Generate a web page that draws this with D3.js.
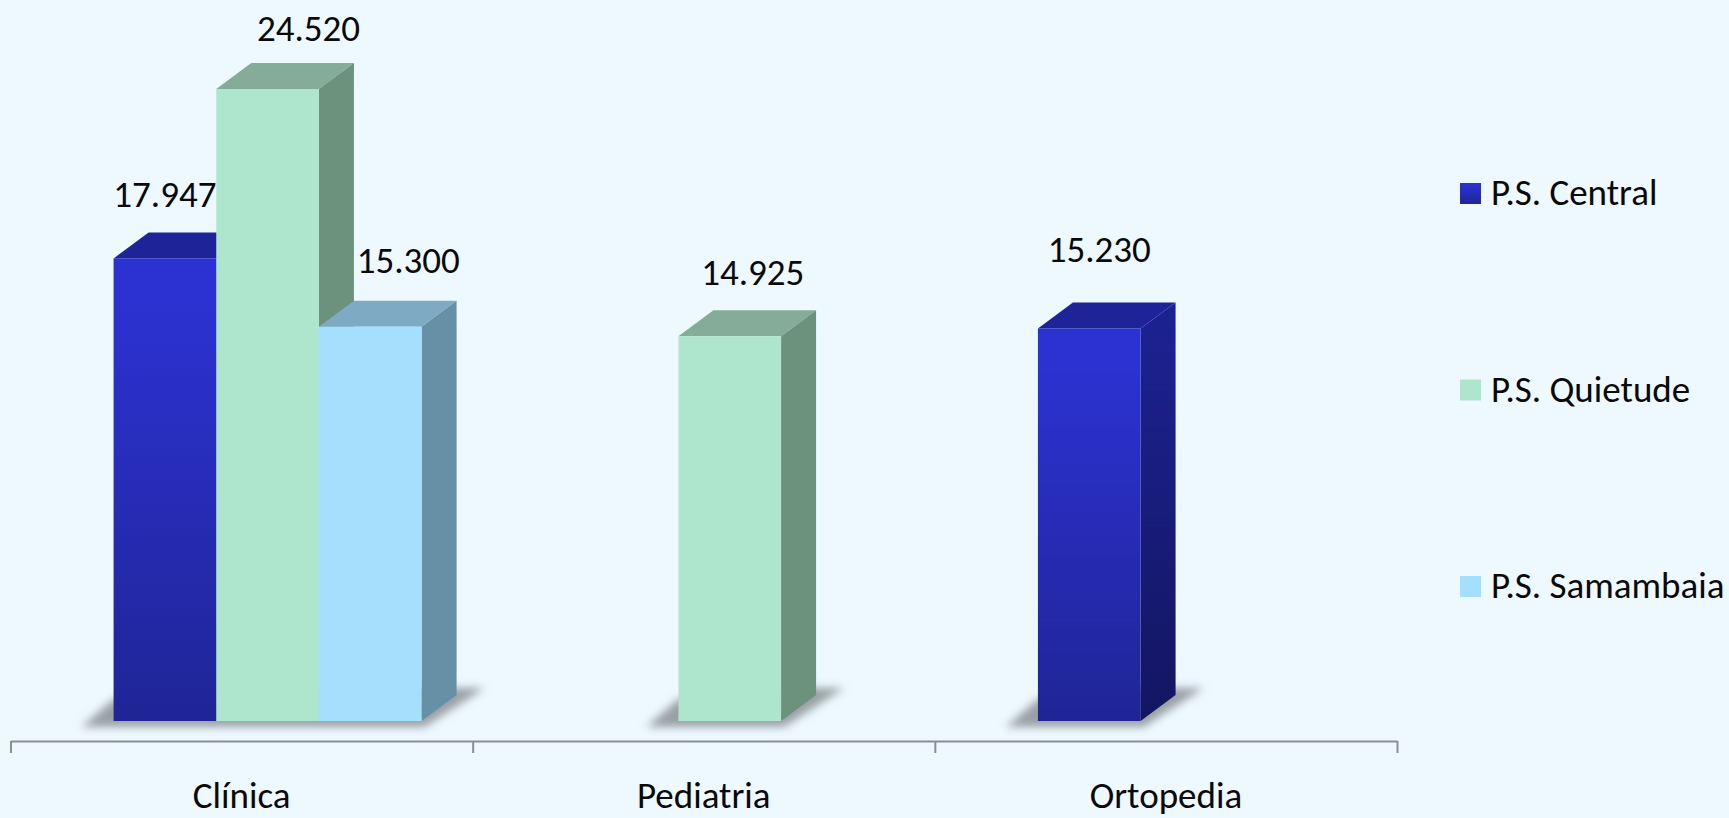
<!DOCTYPE html>
<html>
<head>
<meta charset="utf-8">
<script src="https://cdn.jsdelivr.net/npm/d3@7"></script>
<style>
  html, body { margin: 0; padding: 0; background: #edf8ff; overflow: hidden; }
  text { font-family: Carlito, Lato, "Open Sans", sans-serif; fill: #0a0a0a; }
</style>
</head>
<body>
<svg id="chart" width="1729" height="818"></svg>
<script>
const categories = ["Clínica", "Pediatria", "Ortopedia"];
const seriesNames = ["P.S. Central", "P.S. Quietude", "P.S. Samambaia"];
const central = [17947, null, 15230];
const quietude = [24520, 14925, null];
const samambaia = [15300, null, null];

// hand placed labels in the original, so nudge them off the bar top [dx, dy]
const labelNudge = {
  "Clínica|P.S. Central": [0, -51],
  "Clínica|P.S. Quietude": [41, -48],
  "Clínica|P.S. Samambaia": [38, -54],
  "Pediatria|P.S. Quietude": [23, -51],
  "Ortopedia|P.S. Central": [10, -66]
};

const faces = {
  "P.S. Central": { top: "#1e2498", front: ["#2c32d2", "#1f2596"], side: ["#1c2190", "#131660"] },
  "P.S. Quietude": { top: "#85ac98", front: ["#ade6cd", "#ade6cd"], side: ["#6c917d", "#6c917d"] },
  "P.S. Samambaia": { top: "#7faac3", front: ["#a4e0fe", "#a4e0fe"], side: ["#6690a6", "#6690a6"] }
};

const valuesBySeries = [central, quietude, samambaia];
const rows = [];
categories.forEach((cat, i) => {
  seriesNames.forEach((name, j) => {
    if (valuesBySeries[j][i] !== null) rows.push({ cat, name, value: valuesBySeries[j][i] });
  });
});

const svg = d3.select("#chart");
const depthX = 35, depthY = 26;
const baseY = 721;
const fontSize = 37;

const x = d3.scaleBand().domain(categories).range([10.5, 1397]);
const barGroup = d3.scaleBand().domain(seriesNames).range([-128, 180]);
const y = d3.scaleLinear().domain([0, 24520]).range([baseY, 89]);

const fmt = d3.formatLocale({ decimal: ",", thousands: ".", grouping: [3], currency: ["", ""] }).format(",");

const defs = svg.append("defs");
defs.append("filter").attr("id", "floor-blur")
  .attr("x", "-20%").attr("y", "-50%").attr("width", "140%").attr("height", "200%")
  .append("feGaussianBlur").attr("stdDeviation", 4);

function addGradient(id, stops) {
  const grad = defs.append("linearGradient").attr("id", id)
    .attr("x1", 0).attr("y1", 0).attr("x2", 0).attr("y2", 1);
  grad.append("stop").attr("offset", "8%").attr("stop-color", stops[0]);
  grad.append("stop").attr("offset", "100%").attr("stop-color", stops[1]);
}
seriesNames.forEach((name, j) => {
  addGradient("front-" + j, faces[name].front);
  addGradient("side-" + j, faces[name].side);
});

const barLeft = d => x(d.cat) + x.bandwidth() / 2 + barGroup(d.name);

// floor shadows, one per category, spanning the bars that exist
const shadowG = svg.append("g").attr("class", "shadows");
categories.forEach(cat => {
  const inCat = rows.filter(r => r.cat === cat);
  const x0 = d3.min(inCat, barLeft);
  const x1 = d3.max(inCat, d => barLeft(d) + barGroup.bandwidth());
  const pts = [
    [x0 - 32, baseY + 6], [x1 + 3, baseY + 6],
    [x1 + depthX + 28, baseY - 33], [x1, baseY - 33], [x0, baseY - 22]
  ];
  shadowG.append("polygon")
    .attr("points", pts.join(" "))
    .attr("fill", "#9aa0a5")
    .attr("filter", "url(#floor-blur)");
});

// bars left to right, so each one covers the side of the previous
const bars = svg.append("g").attr("class", "bars")
  .selectAll("g").data(rows).enter().append("g");

bars.append("polygon")
  .attr("fill", d => faces[d.name].top)
  .attr("points", d => {
    const l = barLeft(d), r = l + barGroup.bandwidth(), t = y(d.value);
    return [[l, t], [l + depthX, t - depthY], [r + depthX, t - depthY], [r, t]].join(" ");
  });
bars.append("polygon")
  .attr("fill", d => `url(#side-${seriesNames.indexOf(d.name)})`)
  .attr("points", d => {
    const r = barLeft(d) + barGroup.bandwidth(), t = y(d.value);
    return [[r, t], [r + depthX, t - depthY], [r + depthX, baseY - depthY], [r, baseY]].join(" ");
  });
bars.append("rect")
  .attr("x", barLeft)
  .attr("y", d => y(d.value))
  .attr("width", barGroup.bandwidth())
  .attr("height", d => baseY - y(d.value))
  .attr("fill", d => `url(#front-${seriesNames.indexOf(d.name)})`);

svg.append("g").attr("class", "labels")
  .selectAll("text").data(rows).enter().append("text")
  .attr("x", d => barLeft(d) + barGroup.bandwidth() / 2 + labelNudge[d.cat + "|" + d.name][0])
  .attr("y", d => y(d.value) + labelNudge[d.cat + "|" + d.name][1])
  .attr("text-anchor", "middle")
  .attr("font-size", fontSize)
  .text(d => fmt(d.value));

// Axis: ticks sit on the category boundaries, names in the band centres
const edges = d3.scaleLinear().domain([0, categories.length]).range(x.range());
const tickAxis = svg.append("g").attr("transform", "translate(0,741)")
  .call(d3.axisBottom(edges).tickValues(d3.range(categories.length + 1)).tickSize(12).tickSizeOuter(0).tickFormat(""));
tickAxis.select(".domain").attr("stroke", "#8c8f91").attr("stroke-width", 2);
tickAxis.selectAll(".tick line").attr("stroke", "#8c8f91").attr("stroke-width", 2);

const nameAxis = svg.append("g").attr("transform", "translate(0,741)")
  .call(d3.axisBottom(x).tickSize(0).tickPadding(41));
nameAxis.select(".domain").remove();
nameAxis.selectAll("text").attr("font-size", fontSize).attr("fill", null);
nameAxis.attr("font-family", null);

// Legend
const legendY = d3.scalePoint().domain(seriesNames).range([183, 576]);
const legend = svg.append("g").attr("class", "legend")
  .selectAll("g").data(seriesNames).enter().append("g");
legend.append("rect")
  .attr("x", 1460).attr("y", d => legendY(d))
  .attr("width", 21).attr("height", 21)
  .attr("fill", (d, j) => `url(#front-${j})`);
legend.append("text")
  .attr("x", 1491).attr("y", d => legendY(d) + 22)
  .attr("font-size", fontSize)
  .text(d => d);
</script>
</body>
</html>
